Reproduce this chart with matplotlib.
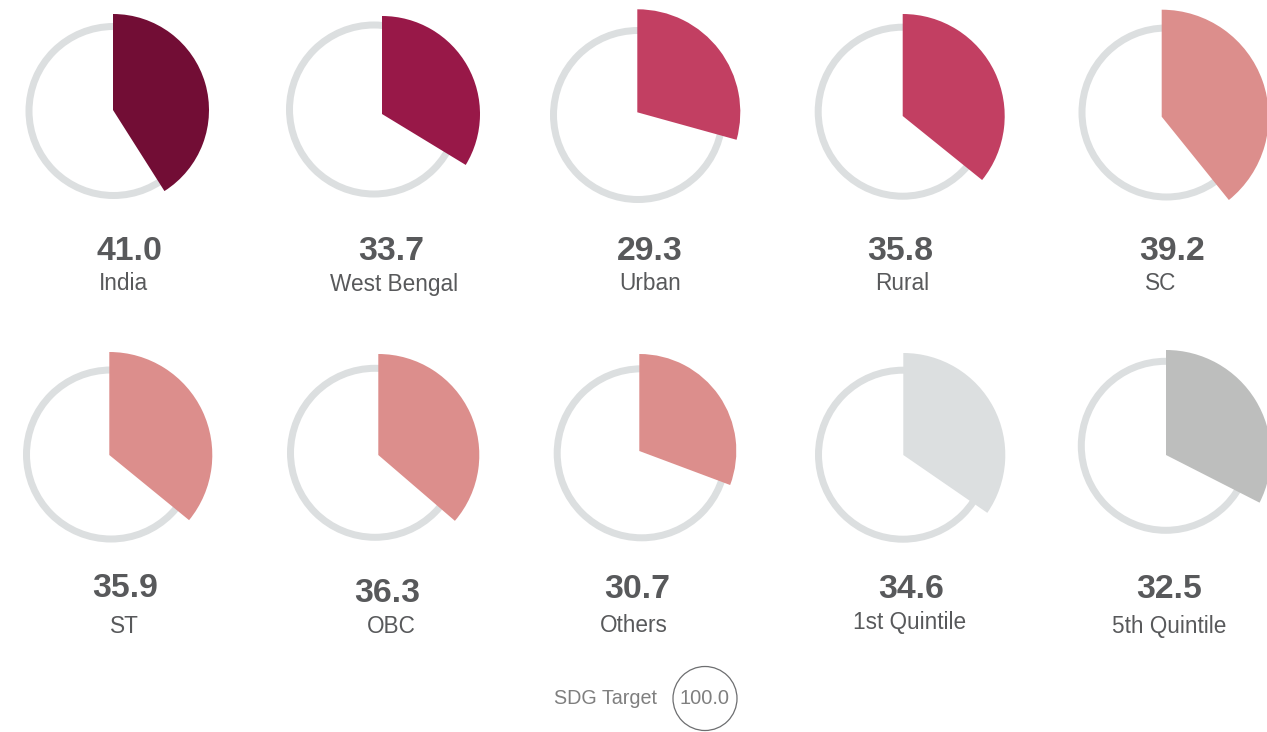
import matplotlib.pyplot as plt
from matplotlib.patches import Circle, Wedge

# Indicator values by group (%)
groups = ["India", "West Bengal", "Urban", "Rural", "SC",
          "ST", "OBC", "Others", "1st Quintile", "5th Quintile"]
values = [41.0, 33.7, 29.3, 35.8, 39.2, 35.9, 36.3, 30.7, 34.6, 32.5]
target = 100.0

colors = ["#720d35", "#981848", "#c23f62", "#c23f62", "#dc8e8c",
          "#dc8e8c", "#dc8e8c", "#dc8e8c", "#dcdfe0", "#bdbebd"]
ring_color = "#dcdfe0"
text_color = "#58595b"

# layout in pixel units (y grows downward)
ring_xy = [(113.5, 111), (374, 109.5), (638, 115), (902.7, 111.7), (1166.5, 112.5),
           (111, 454.5), (375, 452.8), (641.7, 453.3), (903, 454.7), (1165.8, 445.8)]
apex_xy = [(113, 110), (382, 114), (637.3, 112.3), (902.7, 116), (1161.7, 116.7),
           (109.3, 455), (378.3, 455), (639.3, 451), (903.3, 455), (1166, 455)]
wedge_r = [96, 98, 103, 102, 107, 103, 101, 97, 102, 105]
value_xy = [(129, 260), (390.8, 260), (649.7, 260), (900.5, 260), (1171.7, 260),
            (125, 596.7), (386.8, 601.7), (637.5, 598.3), (911, 598.3), (1168.8, 598.3)]
label_xy = [(123.7, 290.5), (393.8, 290.5), (650.5, 290), (902.5, 290), (1161, 290),
            (124.2, 633.3), (391.3, 633.3), (633.7, 631.7), (909.5, 629.3), (1168.7, 632.7)]

plt.rcParams["font.family"] = ["Liberation Sans", "DejaVu Sans"]

fig = plt.figure(figsize=(12.67, 7.32), dpi=100)
ax = fig.add_axes([0, 0, 1, 1])
ax.set_xlim(0, 1267)
ax.set_ylim(732, 0)
ax.set_aspect("equal")
ax.axis("off")

ring_w = 7  # px
for i, val in enumerate(values):
    cx, cy = ring_xy[i]
    ax.add_patch(Circle((cx, cy), 88 - ring_w / 2, fill=False,
                        edgecolor=ring_color, linewidth=ring_w * 0.72, zorder=1))
    # start at 12 o'clock, sweep clockwise (y axis is inverted)
    ax.add_patch(Wedge(apex_xy[i], wedge_r[i], -90, -90 + val * 3.6,
                       facecolor=colors[i], edgecolor="none", zorder=2))
    ax.text(*value_xy[i], f"{val:.1f}", ha="center", va="baseline",
            fontsize=24.4, fontweight="bold", color=text_color)
    ax.text(*label_xy[i], groups[i], ha="center", va="baseline",
            fontsize=16.3, color=text_color)

# SDG target marker
ax.text(656.7, 704.3, "SDG Target", ha="right", va="baseline",
        fontsize=14.2, color="#7f7f7f")
ax.add_patch(Circle((705, 698.5), 32, fill=False, edgecolor="#6d6e70",
                    linewidth=0.9, zorder=1))
ax.text(704.3, 704.3, f"{target:.1f}", ha="center", va="baseline",
        fontsize=14.4, color="#7f7f7f")

fig.savefig("out.png", dpi=100)
